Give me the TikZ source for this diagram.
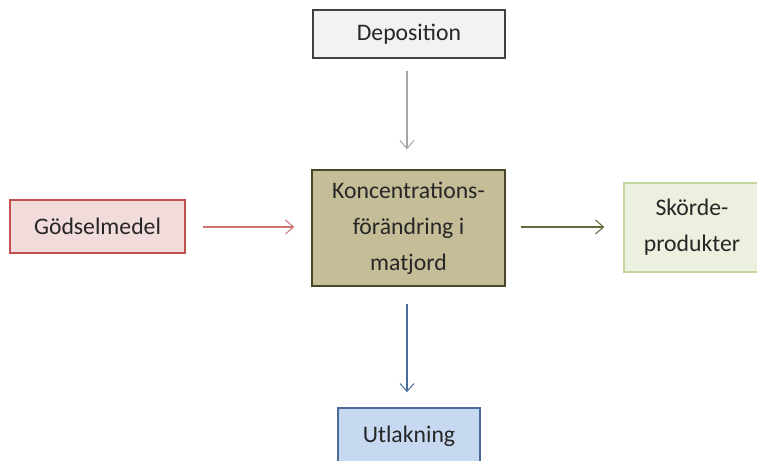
\documentclass[tikz,border=0pt]{standalone}
\usepackage{fontspec}
\setmainfont{Carlito}
\usetikzlibrary{arrows.meta}
\definecolor{depfill}{HTML}{F2F2F2}
\definecolor{depline}{HTML}{404040}
\definecolor{godfill}{HTML}{F2DCDB}
\definecolor{godline}{HTML}{C0504D}
\definecolor{konfill}{HTML}{C4BD97}
\definecolor{konline}{HTML}{4A452A}
\definecolor{skofill}{HTML}{EBF1DE}
\definecolor{skoline}{HTML}{C3D69B}
\definecolor{skoarrow}{HTML}{5E6B3E}
\definecolor{utlfill}{HTML}{C6D9F1}
\definecolor{utlline}{HTML}{4A6C9B}
\definecolor{txt}{HTML}{262626}
\begin{document}
\begin{tikzpicture}[
    box/.style={draw, line width=0.8pt, align=center, inner sep=0pt,
        text=txt, font=\fontsize{13.5}{20.5}\selectfont},
    flow/.style={-{Straight Barb[length=1.6mm,width=2.8mm]}, line width=0.6pt}
  ]
            \clip (0,0) rectangle (15.14,9.22);
            \node [box, fill=depfill, draw=depline, minimum width=3.84cm,
                minimum height=0.96cm] (dep) at (8.18,8.54) {Deposition};
            \node [box, fill=godfill, draw=godline, minimum width=3.5cm,
                minimum height=1.06cm] (god) at (1.95,4.69) {Gödselmedel};
            \node [box, fill=konfill, draw=konline, minimum width=3.86cm,
                minimum height=2.32cm] (kon) at (8.17,4.66)
                {Koncentrations-\\förändring i\\matjord};
            \node [box, fill=skofill, draw=skoline, minimum width=2.72cm,
                minimum height=1.78cm] (sko) at (13.84,4.67)
                {Skörde-\\produkter};
            \node [box, fill=utlfill, draw=utlline, minimum width=2.84cm,
                minimum height=1.12cm] (utl) at (8.18,0.5) {Utlakning};
            \draw [flow, color=black!35, shorten <=0.24cm, shorten >=0.4cm]
                (dep.south -| 8.14,0) -- (kon.north -| 8.14,0);
            \draw [flow, color=godline!80, shorten <=0.34cm, shorten >=0.34cm]
                (god.east |- 0,4.68) -- (kon.west |- 0,4.68);
            \draw [flow, color=skoarrow, shorten <=0.3cm, shorten >=0.38cm]
                (kon.east |- 0,4.68) -- (sko.west |- 0,4.68);
            \draw [flow, color=utlline, shorten <=0.34cm, shorten >=0.3cm]
                (kon.south -| 8.14,0) -- (utl.north -| 8.14,0);
\end{tikzpicture}
\end{document}
